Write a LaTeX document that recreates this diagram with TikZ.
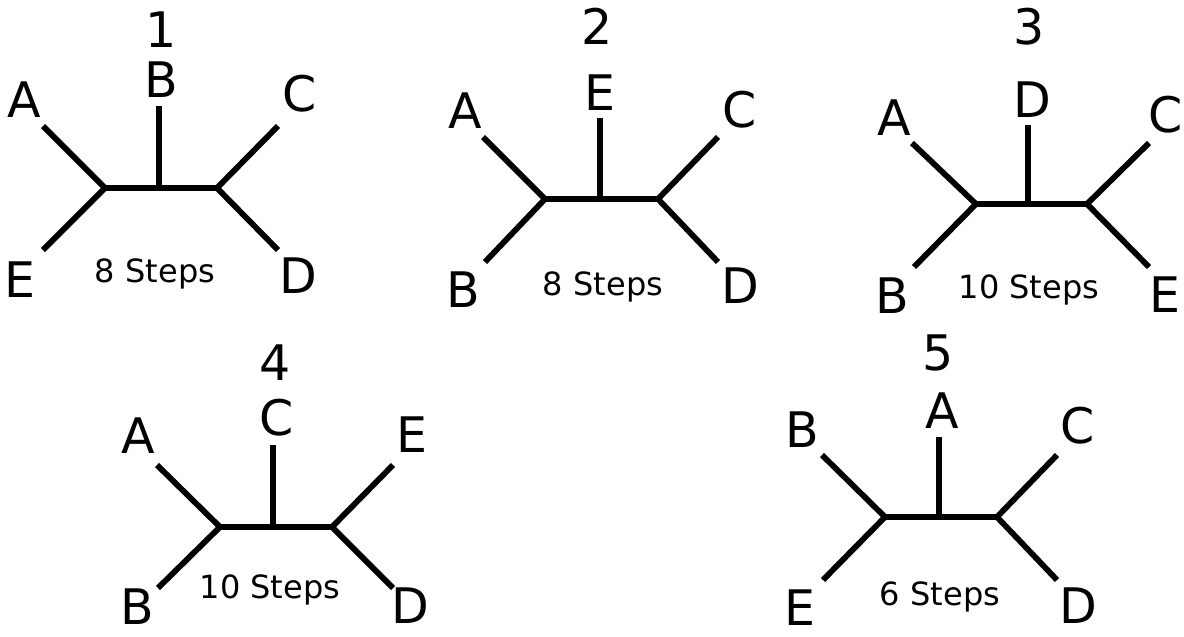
\documentclass[tikz,border=0pt]{standalone}
\usepackage{fontspec}
\setmainfont{DejaVu Sans}
\begin{document}
\begin{tikzpicture}[x=1pt,y=-1pt,
  branch/.style={line width=5.8pt},
  leaflbl/.style={anchor=base,inner sep=0pt,font=\fontsize{49}{52}\selectfont},
  treenum/.style={anchor=base,inner sep=0pt,font=\fontsize{49}{52}\selectfont},
  steplbl/.style={anchor=base,inner sep=0pt,font=\fontsize{32}{35}\selectfont}]
\useasboundingbox (0,0) rectangle (1184,637);

% ---- tree 1 ----
\coordinate (t1l) at (105,188);
\coordinate (t1m) at (159,188);
\coordinate (t1r) at (217,188);
\coordinate (t1a) at (43,126);
\coordinate (t1e) at (43,250);
\coordinate (t1b) at (159,106);
\coordinate (t1c) at (278,126);
\coordinate (t1d) at (278,250);
\draw[branch] (t1a) -- (t1l);
\draw[branch] (t1e) -- (t1l);
\draw[branch] (t1l) -- (t1r);
\draw[branch] (t1m) -- (t1b);
\draw[branch] (t1r) -- (t1c);
\draw[branch] (t1r) -- (t1d);
\node[treenum] (n1) at (161,47) {1};
\node[leaflbl] (t1la) at (24,117) {A};
\node[leaflbl] (t1lb) at (161,97) {B};
\node[leaflbl] (t1lc) at (300,111) {C};
\node[leaflbl] (t1le) at (20,297) {E};
\node[leaflbl] (t1ld) at (298,293) {D};
\node[steplbl] (s1) at (155,282) {8 Steps};

% ---- tree 2 ----
\coordinate (t2l) at (545,199);
\coordinate (t2m) at (600,199);
\coordinate (t2r) at (658,199);
\coordinate (t2a) at (483,137);
\coordinate (t2b) at (485,262);
\coordinate (t2e) at (600,118);
\coordinate (t2c) at (718,137);
\coordinate (t2d) at (718,262);
\draw[branch] (t2a) -- (t2l);
\draw[branch] (t2b) -- (t2l);
\draw[branch] (t2l) -- (t2r);
\draw[branch] (t2m) -- (t2e);
\draw[branch] (t2r) -- (t2c);
\draw[branch] (t2r) -- (t2d);
\node[treenum] (n2) at (597,45) {2};
\node[leaflbl] (t2la) at (465,128) {A};
\node[leaflbl] (t2le) at (600,110) {E};
\node[leaflbl] (t2lc) at (740,127) {C};
\node[leaflbl] (t2lb) at (463,307) {B};
\node[leaflbl] (t2ld) at (740,303) {D};
\node[steplbl] (s2) at (603,295) {8 Steps};

% ---- tree 3 ----
\coordinate (t3l) at (976,204);
\coordinate (t3m) at (1028,204);
\coordinate (t3r) at (1087,204);
\coordinate (t3a) at (912,143);
\coordinate (t3b) at (914,267);
\coordinate (t3d) at (1028,125);
\coordinate (t3c) at (1149,143);
\coordinate (t3e) at (1149,267);
\draw[branch] (t3a) -- (t3l);
\draw[branch] (t3b) -- (t3l);
\draw[branch] (t3l) -- (t3r);
\draw[branch] (t3m) -- (t3d);
\draw[branch] (t3r) -- (t3c);
\draw[branch] (t3r) -- (t3e);
\node[treenum] (n3) at (1029,45) {3};
\node[leaflbl] (t3la) at (894,135) {A};
\node[leaflbl] (t3ld) at (1032,117) {D};
\node[leaflbl] (t3lc) at (1166,132) {C};
\node[leaflbl] (t3lb) at (892,313) {B};
\node[leaflbl] (t3le) at (1165,312) {E};
\node[steplbl] (s3) at (1029,298) {10 Steps};

% ---- tree 4 ----
\coordinate (t4l) at (220,527);
\coordinate (t4m) at (273,527);
\coordinate (t4r) at (332,527);
\coordinate (t4a) at (157,465);
\coordinate (t4b) at (158,588);
\coordinate (t4c) at (273,445);
\coordinate (t4e) at (393,465);
\coordinate (t4d) at (393,588);
\draw[branch] (t4a) -- (t4l);
\draw[branch] (t4b) -- (t4l);
\draw[branch] (t4l) -- (t4r);
\draw[branch] (t4m) -- (t4c);
\draw[branch] (t4r) -- (t4e);
\draw[branch] (t4r) -- (t4d);
\node[treenum] (n4) at (275,380) {4};
\node[leaflbl] (t4la) at (138,453) {A};
\node[leaflbl] (t4lc) at (277,435) {C};
\node[leaflbl] (t4le) at (412,452) {E};
\node[leaflbl] (t4lb) at (137,624) {B};
\node[leaflbl] (t4ld) at (410,623) {D};
\node[steplbl] (s4) at (270,598) {10 Steps};

% ---- tree 5 ----
\coordinate (t5l) at (885,517);
\coordinate (t5m) at (939,517);
\coordinate (t5r) at (997,517);
\coordinate (t5b) at (822,455);
\coordinate (t5e) at (823,580);
\coordinate (t5a) at (939,437);
\coordinate (t5c) at (1057,455);
\coordinate (t5d) at (1057,580);
\draw[branch] (t5b) -- (t5l);
\draw[branch] (t5e) -- (t5l);
\draw[branch] (t5l) -- (t5r);
\draw[branch] (t5m) -- (t5a);
\draw[branch] (t5r) -- (t5c);
\draw[branch] (t5r) -- (t5d);
\node[treenum] (n5) at (938,370) {5};
\node[leaflbl] (t5lb) at (802,447) {B};
\node[leaflbl] (t5la) at (942,428) {A};
\node[leaflbl] (t5lc) at (1078,443) {C};
\node[leaflbl] (t5le) at (800,625) {E};
\node[leaflbl] (t5ld) at (1078,623) {D};
\node[steplbl] (s5) at (940,605) {6 Steps};
\end{tikzpicture}
\end{document}
